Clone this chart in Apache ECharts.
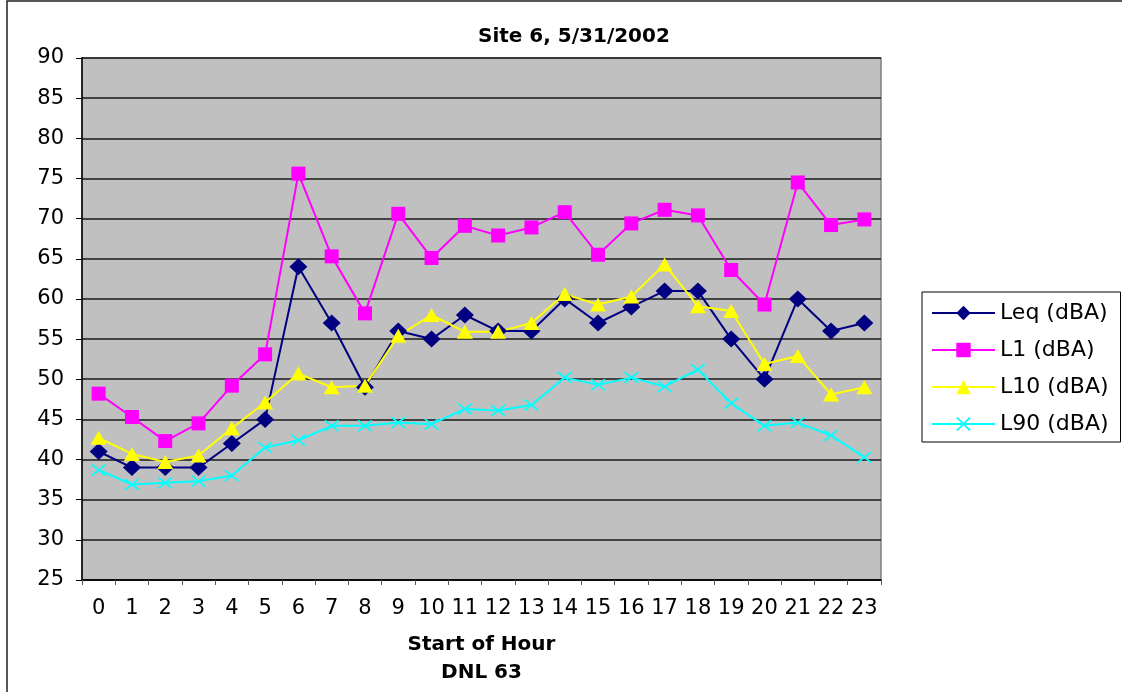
<!DOCTYPE html>
<html>
<head>
<meta charset="utf-8">
<script src="https://cdn.jsdelivr.net/npm/echarts@6/dist/echarts.min.js"></script>
<style>
html,body{margin:0;padding:0;background:#fff;}
#chart{width:1122px;height:692px;}
</style>
</head>
<body>
<div id="chart"></div>
<script>
const hours = ['0','1','2','3','4','5','6','7','8','9','10','11','12','13','14','15','16','17','18','19','20','21','22','23'];
const leq = [41, 39, 39, 39, 42, 45, 64, 57, 49, 56, 55, 58, 56, 56, 60, 57, 59, 61, 61, 55, 50, 60, 56, 57];
const l1  = [48.2, 45.3, 42.3, 44.5, 49.2, 53.1, 75.6, 65.3, 58.2, 70.6, 65.1, 69.1, 67.9, 68.9, 70.8, 65.5, 69.4, 71.1, 70.4, 63.6, 59.3, 74.5, 69.2, 69.9];
const l10 = [42.7, 40.7, 39.7, 40.5, 43.9, 47.1, 50.7, 49.0, 49.2, 55.4, 58.0, 55.9, 55.9, 57.0, 60.6, 59.3, 60.3, 64.3, 59.1, 58.5, 51.9, 52.9, 48.1, 49.0];
const l90 = [38.7, 36.9, 37.1, 37.3, 38.0, 41.5, 42.4, 44.2, 44.2, 44.6, 44.4, 46.3, 46.1, 46.8, 50.2, 49.3, 50.2, 49.1, 51.2, 47.0, 44.2, 44.6, 43.0, 40.3];
const seriesNames = ['Leq (dBA)', 'L1 (dBA)', 'L10 (dBA)', 'L90 (dBA)'];
const titleText = 'Site 6, 5/31/2002';
const xName = 'Start of Hour\nDNL 63';

const FONT = 'DejaVu Sans';
const xSym = 'path://M0,0.9 L0.9,0 L10,9.1 L9.1,10 Z M9.1,0 L10,0.9 L0.9,10 L0,9.1 Z';

const chart = echarts.init(document.getElementById('chart'), null, {renderer: 'canvas'});
function mk(name, data, color, symbol, size) {
  return {
    name: name, type: 'line', data: data,
    symbol: symbol, symbolSize: size, showSymbol: true,
    lineStyle: {color: color, width: 2},
    itemStyle: {color: color, borderWidth: 0},
    emphasis: {disabled: true},
    animation: false
  };
}
chart.setOption({
  animation: false,
  backgroundColor: '#ffffff',
  textStyle: {fontFamily: FONT},
  title: {
    text: titleText, left: 473, top: 22,
    textStyle: {fontFamily: FONT, fontWeight: 'bold', fontSize: 20, color: '#000'}
  },
  graphic: [{
    type: 'rect', shape: {x: 7, y: 1, width: 1200, height: 800},
    style: {fill: 'none', stroke: '#222', lineWidth: 1.5}, silent: true, z: -1
  }],
  legend: {
    orient: 'vertical', left: 922, top: 292,
    data: seriesNames,
    itemWidth: 63, itemHeight: 18, itemGap: 15,
    padding: [10, 12, 7, 9],
    borderColor: '#000', borderWidth: 1, backgroundColor: '#fff',
    textStyle: {fontFamily: FONT, fontSize: 22, color: '#000'}
  },
  grid: {
    left: 82, top: 58, right: 241, bottom: 110,
    show: true, backgroundColor: '#c0c0c0', borderColor: '#808080', borderWidth: 1.5
  },
  xAxis: {
    type: 'category', data: hours, boundaryGap: true,
    name: xName, nameLocation: 'middle', nameGap: 51,
    nameTextStyle: {fontFamily: FONT, fontWeight: 'bold', fontSize: 20, color: '#000', lineHeight: 28},
    axisLine: {lineStyle: {color: '#000', width: 1.5}},
    axisTick: {show: true, inside: false, length: 5, lineStyle: {color: '#555'}},
    axisLabel: {fontFamily: FONT, fontSize: 21, color: '#000', margin: 18, interval: 0},
    splitLine: {show: false}
  },
  yAxis: {
    type: 'value', min: 25, max: 90, interval: 5,
    axisLine: {show: true, lineStyle: {color: '#000', width: 1.5}},
    axisTick: {show: true, inside: false, length: 6, lineStyle: {color: '#000'}},
    axisLabel: {fontFamily: FONT, fontSize: 21, color: '#000', margin: 18},
    splitLine: {show: true, lineStyle: {color: '#1a1a1a', width: 1.5}}
  },
  series: [
    mk(seriesNames[0], leq, '#000080', 'diamond', [18, 17]),
    mk(seriesNames[1], l1, '#ff00ff', 'rect', [14, 14]),
    mk(seriesNames[2], l10, '#ffff00', 'triangle', [16, 14]),
    mk(seriesNames[3], l90, '#00ffff', xSym, [15, 12])
  ]
});
</script>
</body>
</html>
